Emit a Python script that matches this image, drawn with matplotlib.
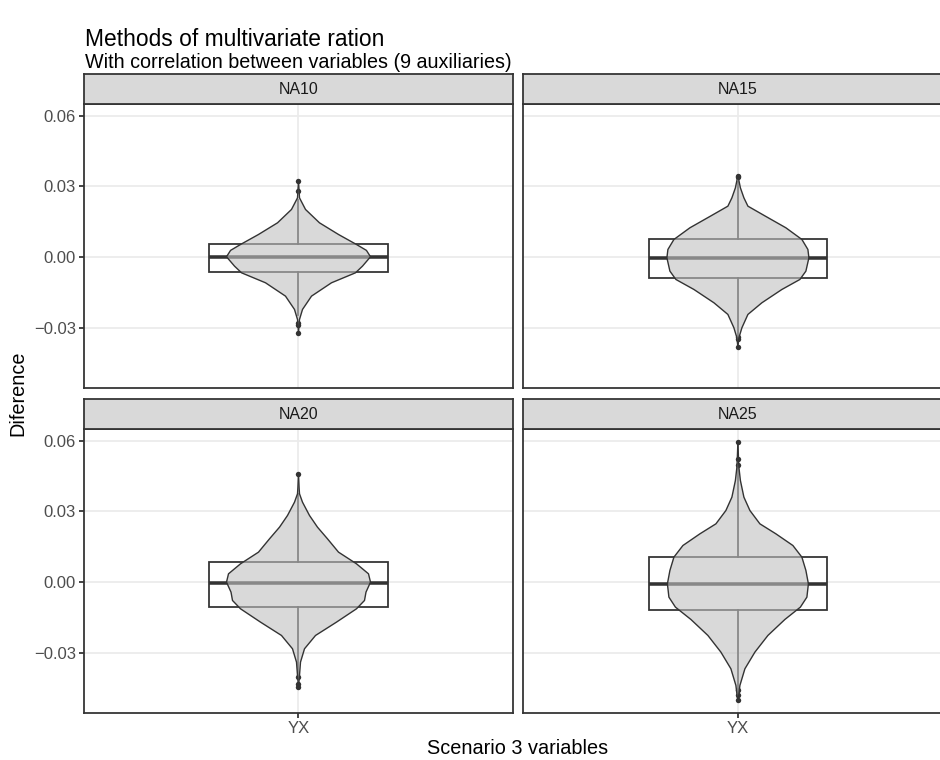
import matplotlib
matplotlib.use("Agg")
import matplotlib.pyplot as plt
from matplotlib.patches import Rectangle

plt.rcParams['font.family'] = ['Liberation Sans', 'DejaVu Sans']

# ---------------- data ----------------
panels = ["NA10", "NA15", "NA20", "NA25"]
category = "YX"

# violin outline: y values and half-widths (x-axis units)
na10_y = [0.0322, 0.0280, 0.0252, 0.0203, 0.01465, 0.00972, 0.00549, 0.0030, 0.0003,
          -0.00366, -0.00648, -0.0107, -0.01634, -0.02197, -0.0262, -0.0280, -0.0321]
na10_w = [0.0, 0.0017, 0.0028, 0.0196, 0.0587, 0.1119, 0.1622, 0.1900, 0.2014,
          0.1790, 0.1594, 0.0923, 0.0364, 0.0112, 0.0028, 0.0017, 0.0]

na15_y = [0.0346, 0.02944, 0.02521, 0.02169, 0.01746, 0.01254, 0.00761, 0.00338, -0.00014,
          -0.00577, -0.0093, -0.01352, -0.01915, -0.02408, -0.02972, -0.03394, -0.0379]
na15_w = [0.0, 0.0070, 0.0168, 0.0280, 0.0769, 0.1343, 0.1790, 0.1958, 0.1986,
          0.1902, 0.1734, 0.1231, 0.0671, 0.0280, 0.0112, 0.0028, 0.0]

na20_y = [0.0459, 0.0400, 0.03747, 0.03394, 0.02831, 0.02338, 0.01845, 0.01282, 0.00789,
          0.00366, 0.00014, -0.00408, -0.00761, -0.01113, -0.01676, -0.0224, -0.02803,
          -0.03366, -0.0393, -0.0442]
na20_w = [0.0, 0.0017, 0.0028, 0.0112, 0.0308, 0.0531, 0.0811, 0.1119, 0.1622,
          0.1958, 0.2014, 0.1888, 0.1846, 0.1622, 0.1063, 0.0476, 0.0168,
          0.0056, 0.0028, 0.0]

na25_y = [0.0593, 0.0522, 0.0487, 0.0431, 0.03606, 0.03042, 0.02479, 0.02056, 0.01563,
          0.0107, 0.00507, -0.00056, -0.0062, -0.01042, -0.01563, -0.0224, -0.02944,
          -0.03648, -0.04352, -0.04845, -0.0496]
na25_w = [0.0, 0.0017, 0.0028, 0.0070, 0.0168, 0.0336, 0.0615, 0.1063, 0.1538,
          0.1790, 0.1902, 0.1972, 0.1930, 0.1748, 0.1315, 0.0839, 0.0476,
          0.0196, 0.0056, 0.0017, 0.0]

violin_y = [na10_y, na15_y, na20_y, na25_y]
violin_w = [na10_w, na15_w, na20_w, na25_w]

# box statistics
q1 = [-0.0062, -0.0087, -0.0104, -0.0118]
median = [0.0001, -0.0001, -0.0001, -0.0006]
q3 = [0.0059, 0.0076, 0.0086, 0.0107]
whisker_lo = [-0.0245, -0.0330, -0.0390, -0.0450]
whisker_hi = [0.0245, 0.0320, 0.0372, 0.0485]
outliers = [
    [0.0322, 0.0280, -0.0276, -0.0286, -0.0321],
    [0.0346, 0.0339, -0.0336, -0.0345, -0.0379],
    [0.0459, -0.0400, -0.0430, -0.0440],
    [0.0593, 0.0522, 0.0497, -0.0456, -0.0475, -0.0496],
]

y_ticks = [-0.03, 0.0, 0.03, 0.06]
y_ticklabels = ["\u22120.03", "0.00", "0.03", "0.06"]

title = "Methods of multivariate ration"
subtitle = "With correlation between variables (9 auxiliaries)"
xlabel = "Scenario 3 variables"
ylabel = "Diference"

# ---------------- layout ----------------
W, H = 940, 760
fig = plt.figure(figsize=(W / 100, H / 100), dpi=100)
fig.patch.set_facecolor("white")


def rect(x0, y0, x1, y1):
    return [x0 / W, 1 - y1 / H, (x1 - x0) / W, (y1 - y0) / H]


col_x = [(84.0, 513.0), (523.4, 952.4)]
row_y = [(104.3, 387.7), (429.3, 712.7)]
strip_h = 30.5

dark = "#333333"
grid_c = "#EBEBEB"
lw_line = 1.28

all_vals = [v for o in outliers for v in o] + [v for vy in violin_y for v in vy]
lo, hi = min(all_vals), max(all_vals)
pad = (hi - lo) * 0.05
ylim = (lo - pad, hi + pad)

for i, name in enumerate(panels):
    r, c = divmod(i, 2)
    x0, x1 = col_x[c]
    y0, y1 = row_y[r]
    ax = fig.add_axes(rect(x0, y0, x1, y1))
    ax.set_xlim(0.4, 1.6)
    ax.set_ylim(*ylim)
    ax.set_facecolor("white")
    # grid
    for t in y_ticks:
        ax.axhline(t, color=grid_c, lw=lw_line, zorder=0)
    ax.axvline(1, color=grid_c, lw=lw_line, zorder=0)

    # boxplot
    ax.add_patch(Rectangle((0.75, q1[i]), 0.5, q3[i] - q1[i], facecolor="white",
                           edgecolor=dark, lw=lw_line, zorder=2))
    ax.plot([0.75, 1.25], [median[i], median[i]], color=dark, lw=lw_line * 2,
            solid_capstyle="butt", zorder=2)
    ax.plot([1, 1], [q3[i], whisker_hi[i]], color=dark, lw=lw_line, zorder=2)
    ax.plot([1, 1], [q1[i], whisker_lo[i]], color=dark, lw=lw_line, zorder=2)
    ax.plot([1] * len(outliers[i]), outliers[i], "o", color=dark, ms=3.9,
            mec="none", zorder=2)

    # violin
    vy = violin_y[i]
    vw = violin_w[i]
    ax.fill_betweenx(vy, [1 - w for w in vw], [1 + w for w in vw],
                     facecolor=(0.757, 0.757, 0.757, 0.6), edgecolor="none", zorder=3)
    ax.plot([1 - w for w in vw], vy, color=dark, lw=1.0, zorder=4)
    ax.plot([1 + w for w in vw], vy, color=dark, lw=1.0, zorder=4)

    for s in ax.spines.values():
        s.set_color(dark)
        s.set_linewidth(lw_line)
        s.set_zorder(5)

    ax.tick_params(axis="both", length=3.3, width=lw_line, color=dark,
                   labelsize=12, labelcolor="#4D4D4D", pad=2.5)
    if c == 0:
        ax.set_yticks(y_ticks)
        ax.set_yticklabels(y_ticklabels)
    else:
        ax.set_yticks([])
    if r == 1:
        ax.set_xticks([1])
        ax.set_xticklabels([category])
    else:
        ax.set_xticks([])

    # strip
    sax = fig.add_axes(rect(x0, y0 - strip_h, x1, y0))
    sax.set_facecolor("#D9D9D9")
    sax.set_xticks([])
    sax.set_yticks([])
    for s in sax.spines.values():
        s.set_color(dark)
        s.set_linewidth(lw_line)
    sax.text(0.5, 0.5, name, transform=sax.transAxes, ha="center", va="center",
             fontsize=11.5, color="#1A1A1A")

fig.text(85 / W, 1 - 40 / H, title, ha="left", va="center", fontsize=16.4, color="black")
fig.text(85 / W, 1 - 62 / H, subtitle, ha="left", va="center", fontsize=14.2, color="black")
fig.text(517.7 / W, 1 - 748 / H, xlabel, ha="center", va="center", fontsize=14.3, color="black")
fig.text(18 / W, 1 - 393 / H, ylabel, ha="center", va="center", rotation=90,
         fontsize=14.3, color="black")

fig.savefig("out.png", dpi=100, facecolor="white")
